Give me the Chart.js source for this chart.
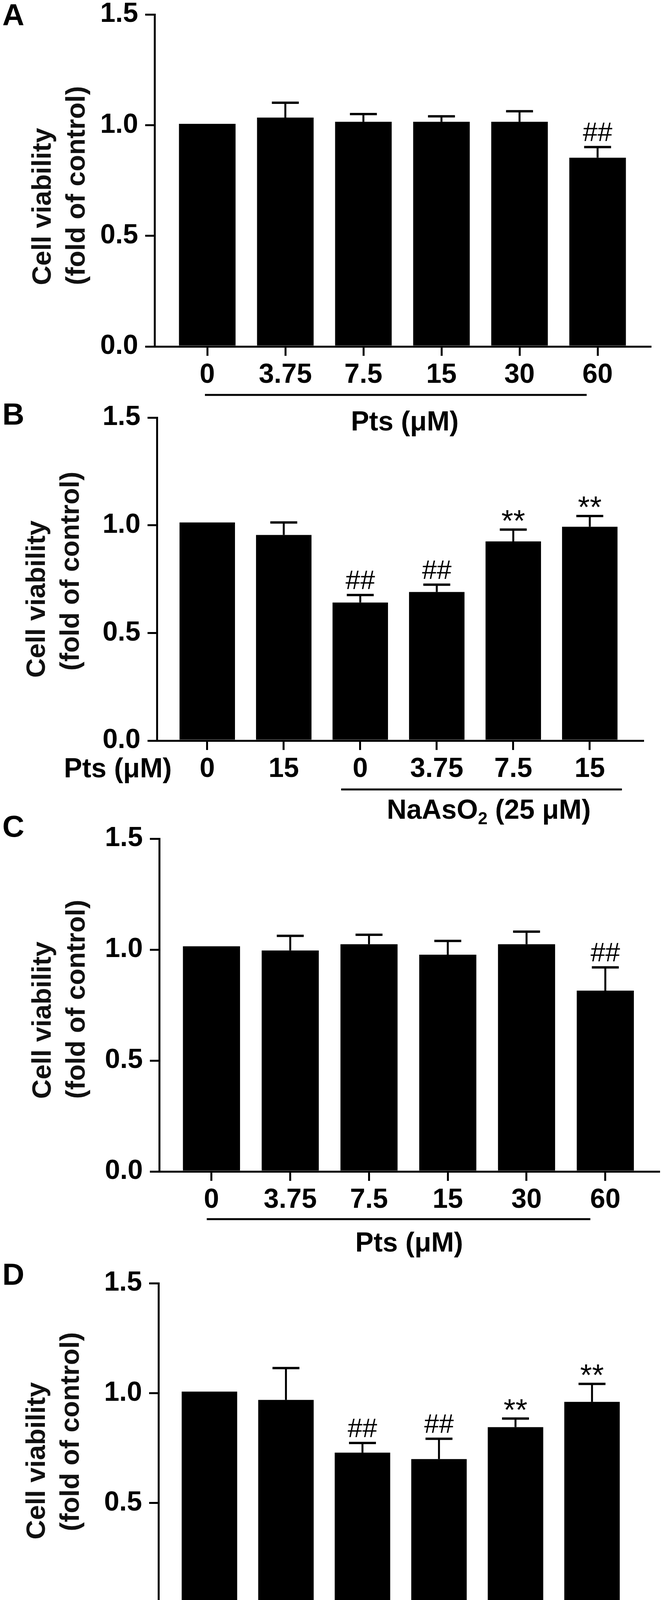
<!DOCTYPE html>
<html><head><meta charset="utf-8">
<script src="https://cdn.jsdelivr.net/npm/chart.js@4.4.1/dist/chart.umd.min.js"></script>
<style>
html,body{margin:0;padding:0;background:#fff;}
#wrap{position:relative;width:1696px;height:4351px;overflow:hidden;background:#fff;}
#wrap canvas{position:absolute;left:0;}
</style></head><body><div id="wrap"></div>
<script>
// ---------------- data ----------------
const yTicks = [0, 0.5, 1.0, 1.5];
const yTitle = ['Cell viability', '(fold of control)'];

const catsA = ['0', '3.75', '7.5', '15', '30', '60'];
const meanA = [1.006, 1.034, 1.015, 1.015, 1.015, 0.853];
const sdA   = [0, 0.067, 0.035, 0.025, 0.048, 0.048];
const markA = ['', '', '', '', '', '##'];
const groupA = 'Pts (μM)';

const catsB = ['0', '15', '0', '3.75', '7.5', '15'];
const meanB = [1.013, 0.955, 0.641, 0.690, 0.925, 0.993];
const sdB   = [0, 0.058, 0.035, 0.034, 0.055, 0.050];
const markB = ['', '', '##', '##', '**', '**'];
const rowB = 'Pts (μM)';
const groupB = ['NaAsO', '2', ' (25 μM)'];

const catsC = ['0', '3.75', '7.5', '15', '30', '60'];
const meanC = [1.015, 0.996, 1.024, 0.977, 1.024, 0.815];
const sdC   = [0, 0.066, 0.043, 0.062, 0.057, 0.105];
const markC = ['', '', '', '', '', '##'];
const groupC = 'Pts (μM)';

const catsD = ['0', '15', '0', '3.75', '7.5', '15'];
const meanD = [1.007, 0.969, 0.729, 0.700, 0.845, 0.960];
const sdD   = [0, 0.145, 0.044, 0.092, 0.039, 0.082];
const markD = ['', '', '##', '##', '**', '**'];
const rowD = 'Pts (μM)';
const groupD = ['NaAsO', '2', ' (25 μM)'];

// ---------------- layout ----------------
const FONT = '"Liberation Sans", Arial, Helvetica, sans-serif';
const PAD_TOP = 60, XAX_H = 100, PAD_BOT = 200;

const panels = [
  {letter:'A', cats:catsA, mean:meanA, sd:sdA, marks:markA, row:null, group:groupA,
   top:37, zero:887, axisX:396, right:1666, xmin:-0.675, xmax:5.675, letterY:65,
   tdx:0, t1:157, t2:157, ul:124, ulFrom:-0.03, ulTo:4.86, gAt:2.53, gY:215},
  {letter:'B', cats:catsB, mean:meanB, sd:sdB, marks:markB, row:rowB, group:groupB,
   top:1069, zero:1896, axisX:402, right:1647, xmin:-0.658, xmax:5.694, letterY:1087,
   tdx:-15, t1:161, t2:179, ul:125, ulFrom:1.75, ulTo:5.42, gAt:3.68, gY:200},
  {letter:'C', cats:catsC, mean:meanC, sd:sdC, marks:markC, row:null, group:groupC,
   top:2147, zero:2999, axisX:408, right:1688, xmin:-0.663, xmax:5.68, letterY:2142,
   tdx:0, t1:186, t2:186, ul:122, ulFrom:-0.06, ulTo:4.81, gAt:2.51, gY:205},
  {letter:'D', cats:catsD, mean:meanD, sd:sdD, marks:markD, row:rowD, group:groupD,
   top:3285, zero:4129, axisX:406, right:1650, xmin:-0.666, xmax:5.68, letterY:3289,
   tdx:-15, t1:188, t2:209, ul:119, ulFrom:1.79, ulTo:5.45, gAt:3.71, gY:195}
];

function makeDeco(p, canvasTop) {
  return {
    id: 'deco' + p.letter,
    afterDatasetsDraw(chart) {
      const ctx = chart.ctx, ys = chart.scales.y;
      const meta = chart.getDatasetMeta(0);
      ctx.save();
      ctx.strokeStyle = '#000'; ctx.fillStyle = '#000'; ctx.lineCap = 'butt';
      meta.data.forEach((bar, i) => {
        const e = p.sd[i];
        let capY = ys.getPixelForValue(p.mean[i]);
        if (e > 0) {
          capY = ys.getPixelForValue(p.mean[i] + e);
          ctx.lineWidth = 5;
          ctx.beginPath(); ctx.moveTo(bar.x, bar.y); ctx.lineTo(bar.x, capY); ctx.stroke();
          ctx.lineWidth = 6;
          ctx.beginPath(); ctx.moveTo(bar.x - 34.5, capY); ctx.lineTo(bar.x + 34.5, capY); ctx.stroke();
        }
        const m = p.marks[i];
        if (m) {
          const star = m.indexOf('*') >= 0;
          ctx.font = (star ? 78 : 68) + 'px ' + FONT;
          const tm = ctx.measureText(m);
          const bottom = capY - (star ? 22 : 15);
          ctx.textAlign = 'center'; ctx.textBaseline = 'alphabetic';
          ctx.fillText(m, bar.x, bottom - tm.actualBoundingBoxDescent);
        }
      });
      ctx.restore();
    },
    afterDraw(chart) {
      const ctx = chart.ctx, xs = chart.scales.x, ys = chart.scales.y;
      const zeroY = ys.getPixelForValue(0);
      ctx.save();
      ctx.fillStyle = '#000'; ctx.strokeStyle = '#000';
      // panel letter
      ctx.font = 'bold 78px ' + FONT;
      ctx.textAlign = 'left'; ctx.textBaseline = 'alphabetic';
      ctx.fillText(p.letter, 6, p.letterY - canvasTop);
      // y title (two lines, rotated)
      ctx.fillStyle = '#111';
      ctx.font = 'bold 69px ' + FONT;
      [[yTitle[0], 130, p.t1], [yTitle[1], 217, p.t2]].forEach(([txt, bx, off]) => {
        ctx.save();
        ctx.translate(bx + p.tdx, zeroY - off);
        ctx.rotate(-Math.PI / 2);
        ctx.textAlign = 'left'; ctx.textBaseline = 'alphabetic';
        ctx.fillText(txt, 0, 0);
        ctx.restore();
      });
      ctx.fillStyle = '#000';
      ctx.font = 'bold 70px ' + FONT;
      // row label
      if (p.row) {
        ctx.textAlign = 'right'; ctx.textBaseline = 'middle';
        ctx.fillText(p.row, p.axisX + 38, zeroY + 75);
      }
      // group underline
      ctx.lineWidth = 5;
      ctx.beginPath();
      ctx.moveTo(xs.getPixelForValue(p.ulFrom), zeroY + p.ul);
      ctx.lineTo(xs.getPixelForValue(p.ulTo), zeroY + p.ul);
      ctx.stroke();
      // group label
      const cx = xs.getPixelForValue(p.gAt);
      const by = zeroY + p.gY;
      ctx.textBaseline = 'alphabetic';
      if (Array.isArray(p.group)) {
        const f1 = 'bold 70px ' + FONT, f2 = 'bold 44px ' + FONT;
        ctx.font = f1; const w1 = ctx.measureText(p.group[0]).width;
        const w3 = ctx.measureText(p.group[2]).width;
        ctx.font = f2; const w2 = ctx.measureText(p.group[1]).width;
        let x = cx - (w1 + w2 + w3) / 2;
        ctx.textAlign = 'left';
        ctx.font = f1; ctx.fillText(p.group[0], x, by); x += w1;
        ctx.font = f2; ctx.fillText(p.group[1], x, by + 14); x += w2;
        ctx.font = f1; ctx.fillText(p.group[2], x, by);
      } else {
        ctx.textAlign = 'center';
        ctx.fillText(p.group, cx, by);
      }
      ctx.restore();
    }
  };
}

const wrap = document.getElementById('wrap');
panels.forEach(p => {
  const plotH = p.zero - p.top;
  const H = PAD_TOP + plotH + XAX_H + PAD_BOT;
  const canvasTop = p.top - PAD_TOP;
  const cv = document.createElement('canvas');
  cv.width = 1696; cv.height = H;
  cv.style.width = '1696px'; cv.style.height = H + 'px';
  cv.style.top = canvasTop + 'px';
  wrap.appendChild(cv);
  const tickFont = {family: FONT, size: 70, weight: 'bold'};
  new Chart(cv.getContext('2d'), {
    type: 'bar',
    data: {
      datasets: [{
        data: p.mean.map((v, i) => ({x: i, y: v})),
        backgroundColor: '#000',
        borderWidth: 0,
        barPercentage: 0.725,
        categoryPercentage: 1
      }]
    },
    options: {
      responsive: false,
      animation: false,
      devicePixelRatio: 1,
      layout: {padding: {left: 0, top: PAD_TOP, right: 1696 - p.right, bottom: PAD_BOT}},
      plugins: {legend: {display: false}, tooltip: {enabled: false}, title: {display: false}},
      scales: {
        x: {
          type: 'linear', min: p.xmin, max: p.xmax, offset: false,
          afterBuildTicks: s => { s.ticks = p.cats.map((c, i) => ({value: i})); },
          afterFit: s => { s.height = XAX_H; },
          ticks: {
            autoSkip: false, maxRotation: 0, minRotation: 0, padding: 8,
            color: '#000', font: tickFont,
            callback: v => p.cats[Math.round(v)]
          },
          grid: {display: true, drawOnChartArea: false, drawTicks: true, tickLength: 24,
                 lineWidth: 5, color: '#000', offset: false},
          border: {display: true, width: 5, color: '#000'}
        },
        y: {
          type: 'linear', min: 0, max: 1.5,
          afterBuildTicks: s => { s.ticks = yTicks.map(v => ({value: v})); },
          afterFit: s => { s.width = p.axisX; },
          ticks: {padding: 18, color: '#000', font: tickFont, callback: v => Number(v).toFixed(1)},
          grid: {display: true, drawOnChartArea: false, drawTicks: true, tickLength: 24,
                 lineWidth: 5, color: '#000'},
          border: {display: true, width: 5, color: '#000'}
        }
      }
    },
    plugins: [makeDeco(p, canvasTop)]
  });
});
</script>
</body></html>
